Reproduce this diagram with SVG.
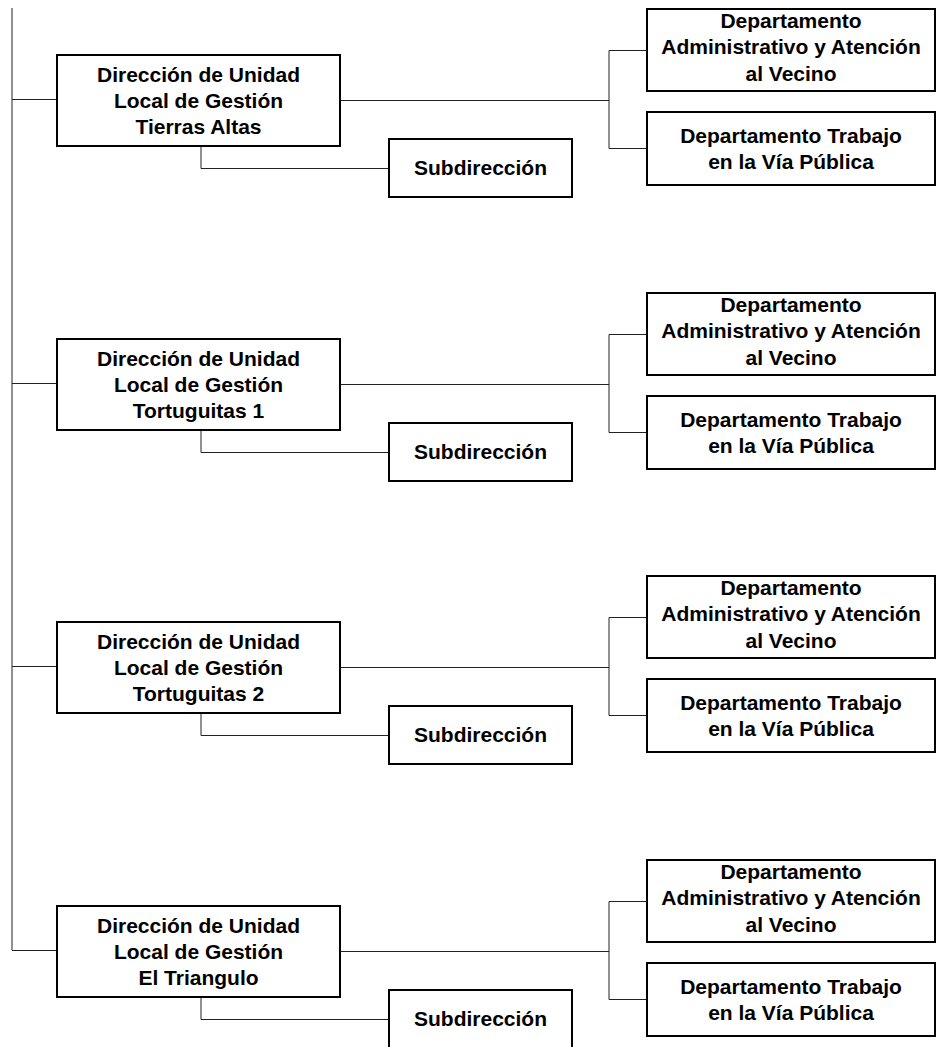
<svg xmlns="http://www.w3.org/2000/svg" width="946" height="1047" viewBox="0 0 946 1047">
<style>
.box{fill:#fff;stroke:#000;stroke-width:2}
.t{font-family:"Liberation Sans",Arial,sans-serif;font-weight:bold;font-size:21px;fill:#000;text-anchor:middle}
.c{fill:none;stroke:#222;stroke-width:1}
</style>
<rect width="946" height="1047" fill="#fff"/>
<g id="connectors">
  <path class="c" d="M12,8 V950"/>
  <g>
    <path class="c" d="M12,99.5 H57"/>
    <path class="c" d="M340,100.5 H609"/>
    <path class="c" d="M647,50.5 H609 V148.5 H647"/>
    <path class="c" d="M201,146 V168.5 H389"/>
  </g>
  <g transform="translate(0,284)">
    <path class="c" d="M12,99.5 H57"/>
    <path class="c" d="M340,100.5 H609"/>
    <path class="c" d="M647,50.5 H609 V148.5 H647"/>
    <path class="c" d="M201,146 V168.5 H389"/>
  </g>
  <g transform="translate(0,567)">
    <path class="c" d="M12,99.5 H57"/>
    <path class="c" d="M340,100.5 H609"/>
    <path class="c" d="M647,50.5 H609 V148.5 H647"/>
    <path class="c" d="M201,146 V168.5 H389"/>
  </g>
  <g transform="translate(0,851)">
    <path class="c" d="M12,99.5 H57"/>
    <path class="c" d="M340,100.5 H609"/>
    <path class="c" d="M647,50.5 H609 V148.5 H647"/>
    <path class="c" d="M201,146 V168.5 H389"/>
  </g>
</g>

<g id="dir-tierras-altas">
  <rect class="box" x="57" y="55" width="283" height="91"/>
  <text class="t" x="198.5" y="82">Dirección de Unidad</text>
  <text class="t" x="198.5" y="108">Local de Gestión</text>
  <text class="t" x="198.5" y="134">Tierras Altas</text>
</g>
<g id="sub-tierras-altas">
  <rect class="box" x="389" y="139" width="183" height="58"/>
  <text class="t" x="480.5" y="175">Subdirección</text>
</g>
<g id="dep-adm-tierras-altas">
  <rect class="box" x="647" y="9" width="288" height="82"/>
  <text class="t" x="791" y="28">Departamento</text>
  <text class="t" x="791" y="54">Administrativo y Atención</text>
  <text class="t" x="791" y="81">al Vecino</text>
</g>
<g id="dep-via-tierras-altas">
  <rect class="box" x="647" y="112" width="288" height="73"/>
  <text class="t" x="791" y="143">Departamento Trabajo</text>
  <text class="t" x="791" y="169">en la Vía Pública</text>
</g>

<g id="dir-tortuguitas-1" transform="translate(0,284)">
  <rect class="box" x="57" y="55" width="283" height="91"/>
  <text class="t" x="198.5" y="82">Dirección de Unidad</text>
  <text class="t" x="198.5" y="108">Local de Gestión</text>
  <text class="t" x="198.5" y="134">Tortuguitas 1</text>
</g>
<g id="sub-tortuguitas-1" transform="translate(0,284)">
  <rect class="box" x="389" y="139" width="183" height="58"/>
  <text class="t" x="480.5" y="175">Subdirección</text>
</g>
<g id="dep-adm-tortuguitas-1" transform="translate(0,284)">
  <rect class="box" x="647" y="9" width="288" height="82"/>
  <text class="t" x="791" y="28">Departamento</text>
  <text class="t" x="791" y="54">Administrativo y Atención</text>
  <text class="t" x="791" y="81">al Vecino</text>
</g>
<g id="dep-via-tortuguitas-1" transform="translate(0,284)">
  <rect class="box" x="647" y="112" width="288" height="73"/>
  <text class="t" x="791" y="143">Departamento Trabajo</text>
  <text class="t" x="791" y="169">en la Vía Pública</text>
</g>

<g id="dir-tortuguitas-2" transform="translate(0,567)">
  <rect class="box" x="57" y="55" width="283" height="91"/>
  <text class="t" x="198.5" y="82">Dirección de Unidad</text>
  <text class="t" x="198.5" y="108">Local de Gestión</text>
  <text class="t" x="198.5" y="134">Tortuguitas 2</text>
</g>
<g id="sub-tortuguitas-2" transform="translate(0,567)">
  <rect class="box" x="389" y="139" width="183" height="58"/>
  <text class="t" x="480.5" y="175">Subdirección</text>
</g>
<g id="dep-adm-tortuguitas-2" transform="translate(0,567)">
  <rect class="box" x="647" y="9" width="288" height="82"/>
  <text class="t" x="791" y="28">Departamento</text>
  <text class="t" x="791" y="54">Administrativo y Atención</text>
  <text class="t" x="791" y="81">al Vecino</text>
</g>
<g id="dep-via-tortuguitas-2" transform="translate(0,567)">
  <rect class="box" x="647" y="112" width="288" height="73"/>
  <text class="t" x="791" y="143">Departamento Trabajo</text>
  <text class="t" x="791" y="169">en la Vía Pública</text>
</g>

<g id="dir-el-triangulo" transform="translate(0,851)">
  <rect class="box" x="57" y="55" width="283" height="91"/>
  <text class="t" x="198.5" y="82">Dirección de Unidad</text>
  <text class="t" x="198.5" y="108">Local de Gestión</text>
  <text class="t" x="198.5" y="134">El Triangulo</text>
</g>
<g id="sub-el-triangulo" transform="translate(0,851)">
  <rect class="box" x="389" y="139" width="183" height="58"/>
  <text class="t" x="480.5" y="175">Subdirección</text>
</g>
<g id="dep-adm-el-triangulo" transform="translate(0,851)">
  <rect class="box" x="647" y="9" width="288" height="82"/>
  <text class="t" x="791" y="28">Departamento</text>
  <text class="t" x="791" y="54">Administrativo y Atención</text>
  <text class="t" x="791" y="81">al Vecino</text>
</g>
<g id="dep-via-el-triangulo" transform="translate(0,851)">
  <rect class="box" x="647" y="112" width="288" height="73"/>
  <text class="t" x="791" y="143">Departamento Trabajo</text>
  <text class="t" x="791" y="169">en la Vía Pública</text>
</g>
</svg>
